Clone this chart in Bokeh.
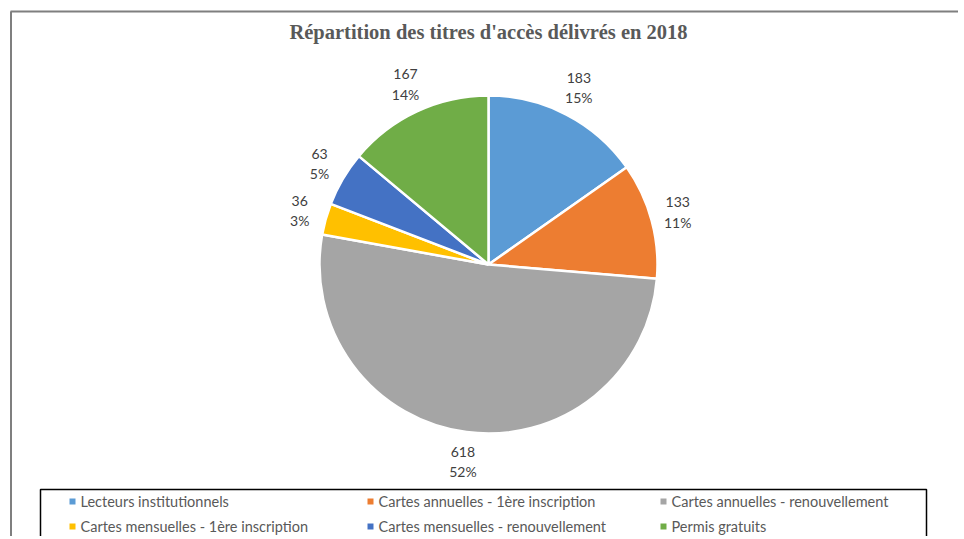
import math
from bokeh.plotting import figure
from bokeh.models import Range1d
from bokeh.core.properties import value
from bokeh.embed import file_html
from bokeh.resources import INLINE

# ---- data ----
categories = [
    "Lecteurs institutionnels",
    "Cartes annuelles - 1ère inscription",
    "Cartes annuelles - renouvellement",
    "Cartes mensuelles - 1ère inscription",
    "Cartes mensuelles - renouvellement",
    "Permis gratuits",
]
counts = [183, 133, 618, 36, 63, 167]
colors = ["#5B9BD5", "#ED7D31", "#A5A5A5", "#FFC000", "#4472C4", "#70AD47"]
title_text = "Répartition des titres d'accès délivrés en 2018"

# ---- layout ----
W, H = 958, 536
OFF = 0


def dx(sx):
    return sx - OFF


def dy(sy):
    return (OFF + H) - sy


p = figure(width=W, height=H, output_backend="svg", toolbar_location=None,
           x_range=Range1d(0, W), y_range=Range1d(0, H), min_border=0)
p.axis.visible = False
p.grid.visible = False
p.outline_line_color = None
p.background_fill_color = "white"

# outer chart border (left and top visible)
p.line(x=[dx(10.5), dx(10.5)], y=[dy(11), dy(560)], line_color="#7f7f7f", line_width=2)
p.line(x=[dx(10), dx(1000)], y=[dy(11), dy(11)], line_color="#7f7f7f", line_width=2)

# title
p.text(x=[dx(488)], y=[dy(31)], text=[title_text], text_font=value("Liberation Serif"),
       text_font_style="bold", text_font_size="20.5px", text_color="#595959",
       text_align="center", text_baseline="middle")

# pie
cx, cy, R = dx(488), dy(264), 169
total = float(sum(counts))
starts, ends, mids = [], [], []
cum = 0
for c in counts:
    a0 = math.pi / 2 - 2 * math.pi * cum / total
    cum += c
    a1 = math.pi / 2 - 2 * math.pi * cum / total
    starts.append(a0)
    ends.append(a1)
    mids.append((cum - c / 2) / total * 2 * math.pi)  # clockwise from top

p.wedge(x=cx, y=cy, radius=R, start_angle=starts, end_angle=ends, direction="clock",
        fill_color=colors, line_color="white", line_width=2.5)

# data labels
gap, bw, bh = 10, 34, 40
lx, ly, vtxt, ptxt = [], [], [], []
for c, th in zip(counts, mids):
    ux, uy = math.sin(th), math.cos(th)
    x = cx + ux * (R + gap) + ux * bw / 2
    y = cy + uy * (R + gap) + uy * bh / 2
    lx.append(x)
    ly.append(y)
    vtxt.append(str(c))
    ptxt.append("%d%%" % int(c / total * 100 + 0.5))

p.text(x=lx, y=[y + 10 for y in ly], text=vtxt, text_font=value("Lato"),
       text_font_size="14px", text_color="#404040", text_align="center", text_baseline="middle")
p.text(x=lx, y=[y - 10 for y in ly], text=ptxt, text_font=value("Lato"),
       text_font_size="14px", text_color="#404040", text_align="center", text_baseline="middle")

# legend box
p.quad(left=dx(40), right=dx(926), top=dy(489), bottom=dy(580), fill_color=None,
       line_color="#000000", line_width=1.5)

col_x = [72, 370, 663]
row_y = [501, 526]
mx, my, tx, ty = [], [], [], []
for i, name in enumerate(categories):
    r, c = divmod(i, 3)
    mx.append(dx(col_x[c]))
    my.append(dy(row_y[r]))
    tx.append(dx(col_x[c] + 8))
    ty.append(dy(row_y[r]))

p.scatter(x=mx, y=my, marker="square", size=6, fill_color=colors, line_color=None)
p.text(x=tx, y=ty, text=categories, text_font=value("Lato"), text_font_size="14.5px",
       text_color="#595959", text_align="left", text_baseline="middle")

open("out.html", "w").write(file_html(p, INLINE))
